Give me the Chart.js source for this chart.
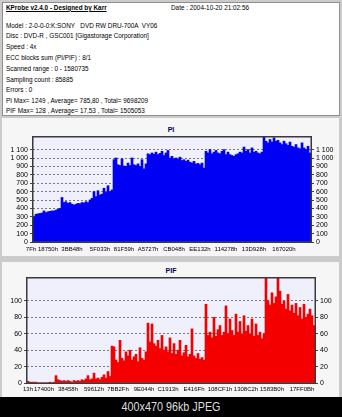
<!DOCTYPE html>
<html>
<head>
<meta charset="utf-8">
<script src="https://cdn.jsdelivr.net/npm/chart.js@4.4.0/dist/chart.umd.min.js"></script>
<style>
  html, body { margin: 0; padding: 0; }
  body {
    width: 342px; height: 417px; position: relative; overflow: hidden;
    background: #cbcbcb; font-family: "Liberation Sans", Arial, sans-serif;
  }
  #info {
    position: absolute; left: 2px; top: 2px; width: 336px; height: 112px;
    background: #ffffff; border: 1px solid #8e8e8e;
  }
  .ln {
    position: absolute; left: 3px; font-size: 7.5px; line-height: 8px; color: #000;
    white-space: nowrap; transform: scaleX(0.85); transform-origin: 0 50%;
  }
  .ln.head { font-weight: bold; text-decoration: underline; }
  .panel { position: absolute; left: 2px; width: 337px; background: #f6f6f6; }
  #piPanel { top: 118px; height: 138px; }
  #pifPanel { top: 262px; height: 135px; }
  .ttl {
    position: absolute; left: 0; width: 342px; text-align: center;
    font-size: 7px; line-height: 8px; font-weight: bold; color: #00005a;
  }
  canvas { position: absolute; left: 0; }
  #caption {
    position: absolute; left: 0; top: 397px; width: 342px; height: 20px; background: #000;
  }
  #caption span {
    position: absolute; left: 0; width: 342px; top: 3px; text-align: center;
    font-size: 13px; line-height: 14px; color: #dedede;
    transform: scaleX(0.83); transform-origin: 50% 50%;
  }
</style>
</head>
<body>
<div id="info">
  <div class="ln head" style="top:1px">KProbe v2.4.0 - Designed by Karr</div>
  <div class="ln" style="top:1px;left:168px">Date : 2004-10-20 21:02:56</div>
  <div class="ln" style="top:19px">Model : 2-0-0-0:K:SONY &nbsp;&nbsp;DVD RW DRU-700A &nbsp;VY06</div>
  <div class="ln" style="top:29px">Disc : DVD-R , GSC001 [Gigastorage Corporation]</div>
  <div class="ln" style="top:40px">Speed : 4x</div>
  <div class="ln" style="top:50.5px">ECC blocks sum (PI/PIF) : 8/1</div>
  <div class="ln" style="top:61.5px">Scanned range : 0 - 1580735</div>
  <div class="ln" style="top:72.5px">Sampling count : 85885</div>
  <div class="ln" style="top:83px">Errors : 0</div>
  <div class="ln" style="top:93.5px">PI Max= 1249 , Average= 785,80 , Total= 9698209</div>
  <div class="ln" style="top:104px">PIF Max= 128 , Average= 17,53 , Total= 1505053</div>
</div>
<div class="panel" id="piPanel"></div>
<div class="panel" id="pifPanel"></div>
<div class="ttl" style="top:126px">PI</div>
<div class="ttl" style="top:267px">PIF</div>
<canvas id="piChart" width="342" height="136" style="top:120px"></canvas>
<canvas id="pifChart" width="342" height="134" style="top:262px"></canvas>
<div id="caption"><span>400x470 96kb JPEG</span></div>

<script>
// PI errors per sampled block, left to right across the disc
const piValues = [
  300, 330, 335, 340, 345, 370, 350, 360, 365, 370,
  370, 380, 390, 400, 530, 470, 480, 460, 470, 450,
  440, 450, 460, 455, 470, 465, 480, 470, 500, 520,
  600, 540, 610, 560, 570, 640, 590, 670, 600, 620,
  980, 1000, 920, 910, 990, 905, 900, 940, 910, 1000,
  920, 910, 930, 900, 980, 870, 930,
  1050, 1040, 1060, 1045, 1070, 1040, 1055, 1080, 1030, 1060,
  1090, 1000, 1020, 990, 1000, 985, 1010, 970, 980, 960,
  975, 950, 940, 960, 930, 935, 920, 940, 880,
  1080, 1060, 1100, 1050, 1070, 1090, 1060, 1050, 1080, 1100,
  1040, 1070, 1040, 1030, 1020, 1040, 1050, 1070, 1060, 1130,
  1080, 1100, 1060, 1120, 1070, 1080, 1060, 1050, 1070,
  1249, 1200, 1180, 1220, 1190, 1240, 1200, 1210, 1180, 1160,
  1200, 1170, 1150, 1190, 1140, 1130, 1160, 1120, 1110, 1180,
  1120, 1100, 1140, 1060
];
// sample positions that carry an LBA label, and the labels
const piTickIndex = [0, 7, 19, 33, 45, 57, 70, 83, 96, 110, 125];
const piTickText = ['7Fh', '18750h', '3BB48h', '5F033h', '81F59h', 'A5727h',
                    'CB048h', 'EE132h', '114278h', '13D928h', '167020h'];

// PIF errors per sampled block
const pifValues = [
  2, 1, 1, 1, 1, 0, 0, 0, 0, 0,
  0, 1, 0, 1, 9, 4, 3, 2, 3, 2,
  3, 2, 1, 3, 2, 3, 2, 4, 3, 5,
  9, 4, 5, 12, 5, 6, 4, 7, 10, 6,
  14, 8,
  45, 44, 28, 25, 52, 30, 27, 38, 33, 40,
  28, 32, 35, 26, 43, 30, 28, 38,
  73, 50, 72, 48, 45, 52, 42, 58, 40, 44,
  38, 55, 36, 48, 35, 40, 52, 33, 37, 46,
  32, 35, 66, 33, 30, 36, 29, 31, 28,
  96, 58, 62, 55, 80, 57, 65, 70, 58, 62,
  94, 60, 78, 64, 58, 84, 62, 75, 60, 82,
  63, 70, 60, 78, 57, 72, 58, 62, 54, 60,
  128, 100, 95, 110, 97, 105, 128, 112, 96, 100,
  90, 108, 88, 95, 85, 97, 82, 92, 78, 96,
  80, 84, 90, 82, 70
];
const pifTickIndex = [0, 8, 20, 33, 45, 58, 70, 83, 96, 109, 122, 137];
const pifTickText = ['13h', '17400h', '38458h', '59612h', '7BB2Fh', '9E044h',
                     'C1913h', 'E416Fh', '108CF1h', '1308C2h', '1583B0h', '17FF0Bh'];

const piAxis = { max: 1250, step: 100 };
const pifAxis = { max: 128, step: 20 };

const FONT = '"Liberation Sans", Arial, sans-serif';

// thousands grouped with a space: 1200 -> "1 200"
function groupThousands(v) {
  if (v < 1000) return String(v);
  return Math.floor(v / 1000) + ' ' + String(v % 1000).padStart(3, '0');
}

// light plot background plus a dark frame round the plot area
const plotFrame = {
  id: 'plotFrame',
  beforeDraw(chart) {
    const { ctx, chartArea: a } = chart;
    ctx.save();
    ctx.fillStyle = '#eff0fb';
    ctx.fillRect(a.left, a.top, a.width, a.height);
    ctx.restore();
  },
  afterDatasetsDraw(chart) {
    const { ctx, chartArea: a } = chart;
    ctx.save();
    ctx.strokeStyle = '#3a3a3a';
    ctx.lineWidth = 1.5;
    ctx.strokeRect(a.left - 0.25, a.top - 0.25, a.width + 0.5, a.height + 0.5);
    ctx.restore();
  }
};

function buildChart(id, values, tickIndex, tickText, color, axis, fmt, g) {
  const labels = values.map((_, i) => i);
  const tickMap = new Map(tickIndex.map((k, j) => [k, tickText[j]]));
  const keepSteps = s => { s.ticks = s.ticks.filter(t => t.value % axis.step === 0); };
  const yTicks = {
    stepSize: axis.step, autoSkip: false, color: '#000', padding: g.tickPad,
    font: { family: FONT, size: 7 }, callback: v => fmt(v)
  };
  new Chart(document.getElementById(id), {
    type: 'bar',
    data: {
      labels,
      datasets: [{
        data: values, backgroundColor: color, borderWidth: 0,
        categoryPercentage: 1, barPercentage: 1
      }]
    },
    options: {
      responsive: false, animation: false, events: [],
      layout: { padding: { top: g.top, left: 0, right: 0, bottom: 0 } },
      plugins: { legend: { display: false }, tooltip: { enabled: false } },
      scales: {
        x: {
          grid: { display: false, drawTicks: false },
          border: { display: false },
          ticks: {
            autoSkip: false, maxRotation: 0, minRotation: 0, padding: g.xPad,
            color: '#000', font: { family: FONT, size: 6 },
            callback: (v, i) => tickMap.has(i) ? tickMap.get(i) : ''
          },
          afterFit: s => { s.height = g.xh; }
        },
        y: {
          position: 'left', min: 0, max: axis.max,
          afterBuildTicks: keepSteps,
          afterFit: s => { s.width = g.left; },
          ticks: yTicks,
          grid: { color: '#7a7a7a', tickLength: 3, tickColor: '#444', tickBorderDash: [] },
          border: { display: false, dash: [2, 2] }
        },
        y2: {
          position: 'right', min: 0, max: axis.max,
          afterBuildTicks: keepSteps,
          afterFit: s => { s.width = g.right; },
          ticks: yTicks,
          grid: { drawOnChartArea: false, tickLength: 3, tickColor: '#444' },
          border: { display: false }
        }
      }
    },
    plugins: [plotFrame]
  });
}

buildChart('piChart', piValues, piTickIndex,
  piTickText.map((t, i) => i === 0 ? t + '\u2002\u2002' : t),
  '#0000f4', piAxis, groupThousands,
  { top: 17, xh: 14, left: 33, right: 31, tickPad: 2, xPad: 4 });

buildChart('pifChart', pifValues, pifTickIndex, pifTickText,
  '#f40000', pifAxis, v => String(v),
  { top: 16, xh: 13, left: 27, right: 27, tickPad: 2, xPad: 3 });
</script>
</body>
</html>
